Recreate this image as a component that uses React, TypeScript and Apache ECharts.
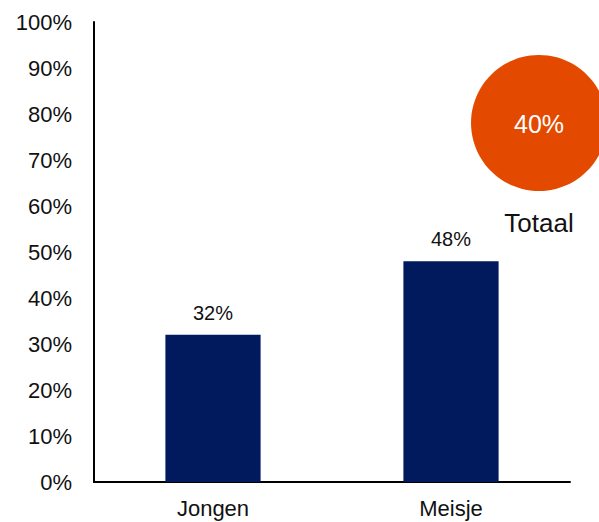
import React, { useEffect, useRef } from "react";
import * as echarts from "echarts";

const categories = ["Jongen", "Meisje"];
const values = [32, 48];
const totalLabel = "Totaal";
const totalValue = 40;
const yTicks = [0, 10, 20, 30, 40, 50, 60, 70, 80, 90, 100];

const FONT = "'Liberation Sans', Arial, Helvetica, sans-serif";

export default function App() {
  const ref = useRef<HTMLDivElement>(null);
  useEffect(() => {
    document.body.style.margin = "0";
    if (!ref.current) return;
    const chart = echarts.init(ref.current, undefined, { renderer: "svg" });
    chart.setOption({
      animation: false,
      backgroundColor: "#ffffff",
      grid: { left: 94, right: 29, top: 22, bottom: 40, containLabel: false },
      xAxis: {
        type: "category",
        data: categories,
        axisLine: { show: true, lineStyle: { color: "#000", width: 2 } },
        axisTick: { show: false },
        axisLabel: { color: "#111", fontSize: 22, fontFamily: FONT, margin: 15 },
      },
      yAxis: {
        type: "value",
        min: yTicks[0],
        max: yTicks[yTicks.length - 1],
        interval: 10,
        axisLine: { show: true, lineStyle: { color: "#000", width: 2 } },
        axisTick: { show: false },
        splitLine: { show: false },
        axisLabel: {
          color: "#111",
          fontSize: 22,
          fontFamily: FONT,
          margin: 22,
          formatter: "{value}%",
        },
      },
      series: [
        {
          type: "bar",
          data: values,
          barWidth: "40%",
          itemStyle: { color: "#011A5E" },
          label: {
            show: true,
            position: "top",
            distance: 12,
            color: "#111",
            fontSize: 20,
            fontFamily: FONT,
            formatter: "{c}%",
          },
        },
      ],
      graphic: [
        {
          type: "circle",
          shape: { cx: 539, cy: 123, r: 68 },
          style: { fill: "#E34A00" },
        },
        {
          type: "text",
          x: 539,
          y: 124,
          style: {
            text: totalValue + "%",
            fill: "#ffffff",
            fontSize: 25,
            fontFamily: FONT,
            align: "center",
            verticalAlign: "middle",
          },
        },
        {
          type: "text",
          x: 539,
          y: 223,
          style: {
            text: totalLabel,
            fill: "#111",
            fontSize: 26,
            fontFamily: FONT,
            align: "center",
            verticalAlign: "middle",
          },
        },
      ],
    });
    return () => chart.dispose();
  }, []);
  return <div ref={ref} style={{ width: 599, height: 522 }} />;
}
